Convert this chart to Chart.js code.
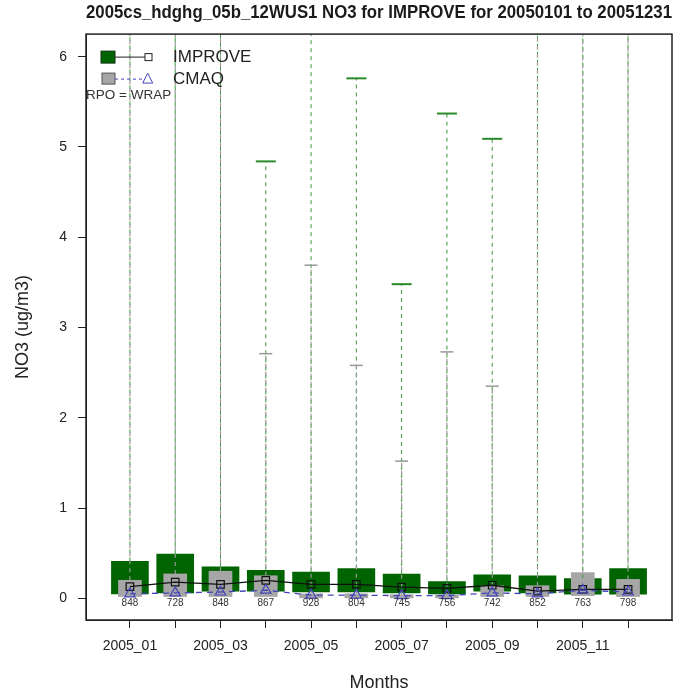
<!DOCTYPE html>
<html lang="en">
<head>
<meta charset="UTF-8">
<title>NO3 for IMPROVE 2005</title>
<script src="https://cdn.jsdelivr.net/npm/chart.js"></script>
<style>
  body { margin: 0; background: #fff; }
  #wrap { width: 687px; height: 694px; }
</style>
</head>
<body>
<div id="wrap"><canvas id="no3Chart"></canvas></div>
<script>
// months on the x axis and their labels (only odd months are labelled)
var months = [1, 2, 3, 4, 5, 6, 7, 8, 9, 10, 11, 12];
var xTickLabels = ['2005_01', '', '2005_03', '', '2005_05', '', '2005_07', '', '2005_09', '', '2005_11', ''];
var yTicks = [0, 1, 2, 3, 4, 5, 6];
var counts = [848, 728, 848, 867, 928, 804, 745, 756, 742, 852, 763, 798];

// IMPROVE (observed) boxes: 25th / 75th percentile, whisker top, centre point
var improveQ1 = [0.05, 0.06, 0.08, 0.08, 0.07, 0.07, 0.06, 0.05, 0.08, 0.06, 0.045, 0.045];
var improveQ3 = [0.41, 0.49, 0.35, 0.31, 0.29, 0.33, 0.27, 0.185, 0.26, 0.25, 0.22, 0.33];
var improveMax = [6.8, 6.8, 6.8, 4.84, 6.8, 5.76, 3.48, 5.37, 5.09, 6.8, 6.8, 6.8];
var improveMid = [0.13, 0.18, 0.155, 0.2, 0.155, 0.155, 0.125, 0.11, 0.145, 0.08, 0.1, 0.1];

// CMAQ (model) boxes
var cmaqQ1 = [0.02, 0.02, 0.02, 0.02, 0.005, 0.005, 0.005, 0.005, 0.02, 0.02, 0.03, 0.02];
var cmaqQ3 = [0.2, 0.27, 0.3, 0.25, 0.05, 0.05, 0.04, 0.04, 0.14, 0.14, 0.285, 0.21];
var cmaqMax = [6.8, 6.8, 6.8, 2.71, 3.69, 2.58, 1.52, 2.73, 2.35, 6.8, 6.8, 6.8];
var cmaqMid = [0.05, 0.06, 0.07, 0.09, 0.035, 0.035, 0.03, 0.03, 0.06, 0.05, 0.09, 0.07];

var GREEN = '#006400';
var GREY = '#a6a6a6';
var BLUE = '#4444bb';

function boxData(lo, hi) {
    return months.map(function(m, i) { return {x: m, y: [lo[i], hi[i]]}; });
}

function whiskerData(q3, top) {
    var pts = [];
    months.forEach(function(m, i) {
        pts.push({x: m, y: q3[i]}, {x: m, y: top[i]}, {x: m, y: null});
    });
    return pts;
}

function pointData(vals) {
    return months.map(function(m, i) { return {x: m, y: vals[i]}; });
}

// frame, legend and site counts
var extras = {
    id: 'extras',
    afterDraw: function(chart) {
        var ctx = chart.ctx, ca = chart.chartArea;
        var xs = chart.scales.x, ys = chart.scales.y;
        ctx.save();
        ctx.strokeStyle = '#222';
        ctx.lineWidth = 1.5;
        ctx.strokeRect(ca.left, ca.top, ca.right - ca.left, ca.bottom - ca.top);

        // counts under each month
        ctx.fillStyle = '#333';
        ctx.font = '10px "Liberation Sans", Arial, sans-serif';
        ctx.textAlign = 'center';
        ctx.textBaseline = 'middle';
        months.forEach(function(m, i) {
            ctx.fillText(counts[i], xs.getPixelForValue(m), ys.getPixelForValue(0) + 5);
        });

        // legend
        var lx = ca.left, ly = ca.top;
        ctx.lineWidth = 1;
        ctx.fillStyle = GREEN;
        ctx.fillRect(lx + 15, ly + 17, 14, 12);
        ctx.strokeStyle = '#113311';
        ctx.strokeRect(lx + 15, ly + 17, 14, 12);
        ctx.strokeStyle = '#222';
        ctx.beginPath();
        ctx.moveTo(lx + 29, ly + 23);
        ctx.lineTo(lx + 59, ly + 23);
        ctx.stroke();
        ctx.fillStyle = '#fff';
        ctx.fillRect(lx + 59, ly + 19.5, 7, 7);
        ctx.strokeRect(lx + 59, ly + 19.5, 7, 7);

        ctx.fillStyle = GREY;
        ctx.fillRect(lx + 16, ly + 39, 13, 11);
        ctx.strokeStyle = '#555';
        ctx.strokeRect(lx + 16, ly + 39, 13, 11);
        ctx.strokeStyle = BLUE;
        ctx.setLineDash([3, 3]);
        ctx.beginPath();
        ctx.moveTo(lx + 29, ly + 45);
        ctx.lineTo(lx + 57, ly + 45);
        ctx.stroke();
        ctx.setLineDash([]);
        ctx.beginPath();
        ctx.moveTo(lx + 61.7, ly + 39);
        ctx.lineTo(lx + 66.7, ly + 49);
        ctx.lineTo(lx + 56.7, ly + 49);
        ctx.closePath();
        ctx.stroke();

        ctx.fillStyle = '#222';
        ctx.textAlign = 'left';
        ctx.font = '17px "Liberation Sans", Arial, sans-serif';
        ctx.fillText('IMPROVE', lx + 87, ly + 23);
        ctx.fillText('CMAQ', lx + 87, ly + 45);
        ctx.font = '13.5px "Liberation Sans", Arial, sans-serif';
        ctx.fillStyle = '#333';
        ctx.fillText('RPO = WRAP', lx, ly + 61);
        ctx.restore();
    }
};

Chart.defaults.font.family = '"Liberation Sans", Arial, sans-serif';
Chart.defaults.color = '#222';

var ctx = document.getElementById('no3Chart').getContext('2d');
var no3Chart = new Chart(ctx, {
    type: 'bar',
    data: {
        datasets: [
            {
                label: 'IMPROVE box',
                data: boxData(improveQ1, improveQ3),
                backgroundColor: GREEN,
                barThickness: 37,
                grouped: false,
                order: 10
            },
            {
                label: 'CMAQ box',
                data: boxData(cmaqQ1, cmaqQ3),
                backgroundColor: GREY,
                barThickness: 23,
                grouped: false,
                order: 9
            },
            {
                type: 'line',
                label: 'IMPROVE whisker',
                data: whiskerData(improveQ3, improveMax),
                borderColor: '#3a9a3a',
                borderWidth: 1,
                borderDash: [4, 4],
                pointStyle: 'line',
                pointRadius: function(c) { return c.dataIndex % 3 === 1 ? 10 : 0; },
                pointBorderColor: '#2a8a2a',
                pointBorderWidth: 2,
                order: 8
            },
            {
                type: 'line',
                label: 'CMAQ whisker',
                data: whiskerData(cmaqQ3, cmaqMax),
                borderColor: '#9a9a9a',
                borderWidth: 1.2,
                borderDash: [4, 4],
                pointStyle: 'line',
                pointRadius: function(c) { return c.dataIndex % 3 === 1 ? 6.5 : 0; },
                pointBorderColor: '#999',
                pointBorderWidth: 1.5,
                order: 7
            },
            {
                type: 'line',
                label: 'IMPROVE',
                data: pointData(improveMid),
                borderColor: '#111',
                borderWidth: 1.3,
                pointStyle: 'rect',
                pointRadius: 5.3,
                pointBackgroundColor: 'rgba(0,0,0,0)',
                pointBorderColor: '#111',
                pointBorderWidth: 1.2,
                order: 2
            },
            {
                type: 'line',
                label: 'CMAQ',
                data: pointData(cmaqMid),
                borderColor: BLUE,
                borderWidth: 1.3,
                borderDash: [6, 5],
                pointStyle: 'triangle',
                pointRadius: 6,
                pointBackgroundColor: 'rgba(0,0,0,0)',
                pointBorderColor: BLUE,
                pointBorderWidth: 1.2,
                order: 1
            }
        ]
    },
    options: {
        responsive: true,
        maintainAspectRatio: false,
        animation: false,
        events: [],
        layout: { padding: { top: 0, right: 15, bottom: 0, left: 0 } },
        plugins: {
            legend: { display: false },
            tooltip: { enabled: false },
            title: {
                display: true,
                fullSize: false,
                text: '2005cs_hdghg_05b_12WUS1 NO3 for IMPROVE for 20050101 to 20051231',
                font: { size: 18, weight: 'bold' },
                color: '#1a1a1a',
                padding: { top: 2, bottom: 10.5 }
            }
        },
        scales: {
            x: {
                type: 'linear',
                min: 0.03,
                max: 12.97,
                offset: false,
                afterFit: function(s) { s.height = 74; },
                afterBuildTicks: function(s) { s.ticks = months.map(function(v) { return {value: v}; }); },
                ticks: {
                    autoSkip: false,
                    maxRotation: 0,
                    font: { size: 14 },
                    padding: 10,
                    callback: function(v, i) { return xTickLabels[i]; }
                },
                grid: { offset: false, drawOnChartArea: false, tickLength: 8, color: '#222' },
                border: { color: '#222' },
                title: { display: true, text: 'Months', font: { size: 18 }, padding: { top: 0, bottom: 0 } }
            },
            y: {
                min: -0.24,
                max: 6.25,
                afterFit: function(s) { s.width = 86; },
                afterBuildTicks: function(s) { s.ticks = yTicks.map(function(v) { return {value: v}; }); },
                ticks: { font: { size: 14 }, padding: 11 },
                grid: { drawOnChartArea: false, tickLength: 8, color: '#222' },
                border: { color: '#222' },
                title: { display: true, text: 'NO3 (ug/m3)', font: { size: 18 }, padding: { top: 12, bottom: 0 } }
            }
        }
    },
    plugins: [extras]
});
</script>
</body>
</html>
